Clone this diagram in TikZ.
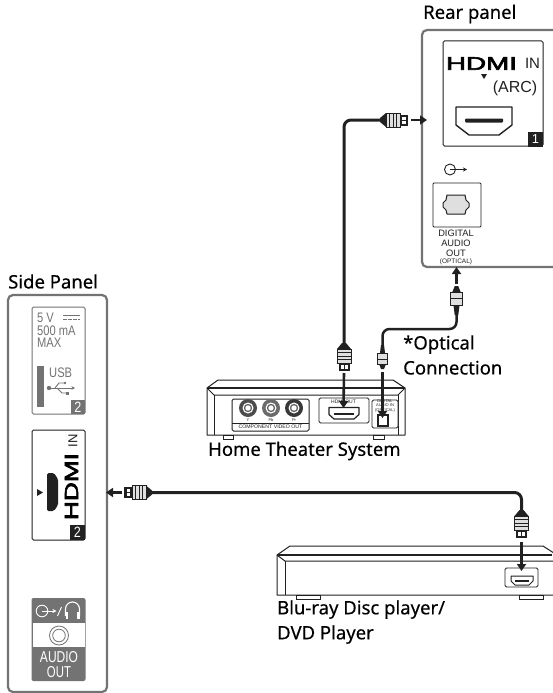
\documentclass[tikz,border=0pt]{standalone}
\usepackage{fontspec}
\usepackage{graphicx}
\setmainfont{Noto Sans}
\newfontfamily\capf[FakeBold=0.35]{Noto Sans}
\newfontfamily\lab{Liberation Sans}
\newfontfamily\logo[FakeBold=3]{Liberation Sans}
\definecolor{pgray}{gray}{0.45}
\definecolor{ink}{gray}{0.13}
\definecolor{jacka}{gray}{0.3}
\definecolor{jackb}{gray}{0.42}
\definecolor{jackc}{gray}{0.22}
\definecolor{jackr}{gray}{0.4}
\usetikzlibrary{arrows.meta}
\tikzset{
 panel/.style={draw=pgray,line width=2.2pt,rounded corners=5pt},
 portbox/.style={draw=ink,line width=1pt,rounded corners=1.5pt,fill=white},
 caption/.style={font=\capf\fontsize{18.5}{25}\selectfont,anchor=west,inner sep=0pt,text=black,align=left},
 tiny/.style={font=\lab\fontsize{9.3}{10}\selectfont,inner sep=0pt,text=ink},
 grayt/.style={font=\lab\fontsize{11.5}{12}\selectfont,inner sep=0pt,text=pgray,anchor=west},
 cable/.style={draw=ink,line width=3pt,rounded corners=7pt},
 thincable/.style={draw=ink,line width=2.5pt,rounded corners=7pt},
 pointer/.style={draw=ink,line width=2.6pt,-{Triangle[length=7pt,width=9pt]}},
 body/.style={draw=ink,line width=1pt,fill=white},
 badge/.style={fill=ink,text=white,font=\lab\fontsize{13}{14}\selectfont,inner sep=0pt,minimum width=15pt,minimum height=15pt},
 hdmiplug/.pic={
  \fill[ink] (-2,0)--(2,0)--(7,6)--(-7,6)--cycle;
  \draw[body,fill=gray!25] (-7,6) rectangle (7,20);
  \foreach \q in {9.5,13,16.5}{\draw[ink,line width=.9pt] (-7,\q)--(7,\q);}
  \fill[ink] (-5.5,20) rectangle (5.5,28);
  \fill[white] (-3.5,22) rectangle (-.5,25.5);
  \fill[white] (.5,22) rectangle (3.5,25.5);
 },
 optplug/.pic={
  \fill[ink] (-1.5,0)--(1.5,0)--(2.5,8)--(-2.5,8)--cycle;
  \draw[body,fill=gray!25] (-5,8) rectangle (5,19);
  \draw[ink,line width=.8pt] (-5,14)--(5,14);
  \fill[ink] (-3.5,19)--(3.5,19)--(1.5,24)--(-1.5,24)--cycle;
 },
}
\begin{document}
\begin{tikzpicture}[x=1pt,y=-1pt]
\useasboundingbox (0,0) rectangle (552,693);
\fill[white] (0,0) rectangle (552,693);
% captions
\node[caption] (rearcap) at (423,14) {Rear panel};
\node[caption] (sidecap) at (8,281.5) {Side Panel};
\node[caption] (optcap) at (403,355) {*Optical\\Connection};
\node[caption] (htscap) at (208,451) {Home Theater System};
\node[caption] (bdcap) at (277,622) {Blu-ray Disc player/\\DVD Player};
% rear panel
\draw[panel] (560,30)--(422,30)--(422,267)--(560,267);
\coordinate (rearin) at (427,120);
\coordinate (rearbot) at (456.5,267);
\node[portbox,minimum width=100pt,minimum height=105pt,inner sep=0pt] (reprt) at (493,93.5) {};
\node[inner sep=0pt] (rhdmi) at (481.5,63.5) {\resizebox{71pt}{12.5pt}{\logo HDMI}};
\node[font=\lab\fontsize{15}{16}\selectfont,inner sep=0pt,text=ink] (rin) at (532.5,63.5) {IN};
\fill[ink] (481,74)--(487,74)--(484,79)--cycle;
\node[font=\lab\fontsize{16}{17}\selectfont,inner sep=0pt,text=ink] (rarc) at (515,88) {(ARC)};
\draw[ink,line width=1.4pt,fill=white,line join=round] (456,107)--(512,107)--(512,125)--(499,135)--(469,135)--(456,125)--cycle;
\fill[ink,rounded corners=1pt] (465,118.5) rectangle (503,122.5);
\node[badge] (b1) at (535.5,139) {1};
% optical out
\draw[ink,line width=.9pt] (450,169.5) circle (5.5);
\draw[ink,line width=.9pt,-{Stealth[length=4pt,width=4pt]}] (450,169.5)--(467,169.5);
\node[draw=ink,line width=.8pt,rounded corners=1pt,minimum width=48pt,minimum height=44pt,inner sep=0pt] (optbox) at (457,205) {};
\draw[ink,line width=1pt,fill=gray!25,line join=round] (447,195)--(465,195)--(466,200)--(469,203)--(469,207)--(466,210)--(465,214)--(447,214)--(446,210)--(443,207)--(443,203)--(446,200)--cycle;
\node[tiny] (d1) at (456,233) {DIGITAL};
\node[tiny] (d2) at (456,243.5) {AUDIO};
\node[tiny] (d3) at (456,253.5) {OUT};
\node[tiny,font=\lab\fontsize{6.5}{7}\selectfont] (d4) at (456,261.5) {(OPTICAL)};
% HTS
\draw[ink,line width=1pt,fill=white,line join=round] (207,388)--(218,380)--(393,380)--(405,388)--(405,435)--(207,435)--cycle;
\draw[ink,line width=1.8pt] (207,388)--(405,388);
\draw[ink,line width=1pt] (207,388)--(214,395)--(398,395)--(405,388);
\draw[ink,line width=1pt] (214,395)--(214,435) (398,395)--(398,435);
\draw[ink,line width=1pt] (223,435) rectangle (233,439);
\draw[ink,line width=1pt] (373,435) rectangle (384,439);
\node[portbox,minimum width=77pt,minimum height=32pt,inner sep=0pt] (comp) at (270.5,415) {};
\draw[ink,line width=.8pt] (232,423)--(309,423);
\foreach \cx/\fl in {248/jacka,271/jackb,294/jackc}{
 \fill[\fl] (\cx,408) circle (9);
 \fill[white] (\cx,408) circle (5.5);
 \draw[jackr,line width=1.3pt] (\cx,408) circle (3.5);
}
\node[tiny,font=\lab\fontsize{4}{4}\selectfont] (cy) at (248,420) {Y};
\node[tiny,font=\lab\fontsize{4}{4}\selectfont] (cb) at (271,420) {Pb};
\node[tiny,font=\lab\fontsize{4}{4}\selectfont] (cr) at (294,420) {Pr};
\node[tiny,font=\lab\fontsize{5.2}{5}\selectfont] (cv) at (270.5,427) {COMPONENT VIDEO OUT};
\node[portbox,line width=.8pt,minimum width=50pt,minimum height=25pt,inner sep=0pt] (houtb) at (344,410.5) {};
\node[tiny,font=\lab\fontsize{5}{5}\selectfont] (hout) at (343.5,402) {HDMI OUT};
\draw[ink,line width=1.2pt,fill=white,line join=round] (329,407.5)--(359,407.5)--(359,414.5)--(354,419)--(334,419)--(329,414.5)--cycle;
\fill[ink] (334,412.5) rectangle (354,415);
\node[portbox,line width=.8pt,minimum width=26pt,minimum height=28pt,inner sep=0pt] (doutb) at (385,414) {};
\node[tiny,font=\lab\fontsize{4}{4.4}\selectfont,align=center] (dout) at (385,406) {DIGITAL\\AUDIO IN\\(OPTICAL)};
\draw[ink,line width=1.2pt,fill=white] (378,415) rectangle (388,426);
% BD player
\draw[ink,line width=1pt,fill=white,line join=round] (277,555)--(290,546)--(543,546)--(560,557)--(560,595)--(277,595)--cycle;
\draw[ink,line width=1.8pt] (277,555)--(552,555);
\draw[ink,line width=1pt] (277,555)--(285,561)--(560,561);
\draw[ink,line width=1pt] (285,561)--(285,595);
\draw[ink,line width=1pt] (296,595) rectangle (320,599);
\draw[ink,line width=1pt] (519,595) rectangle (543,599);
\node[portbox,line width=.8pt,minimum width=33pt,minimum height=19pt,inner sep=0pt] (bdport) at (521.5,577.5) {};
\draw[ink,line width=1pt,fill=white,line join=round] (511,576)--(533,576)--(533,581)--(529,585)--(515,585)--(511,581)--cycle;
\fill[ink] (515,579.5) rectangle (529,582);
% side panel
\node[panel,minimum width=99pt,minimum height=397pt,inner sep=0pt] (side) at (57.5,493.5) {};
\coordinate (sidein) at (106,492.5);
% USB
\node[draw=pgray,line width=1pt,rounded corners=1.5pt,minimum width=53pt,minimum height=107pt,inner sep=0pt] (usbbox) at (58.5,360.5) {};
\node[grayt] (u1) at (37,318) {\scalebox{.97}[1.2]{5 V}};
\node[grayt] (u2) at (37,330.5) {\scalebox{.97}[1.2]{500 mA}};
\node[grayt] (u3) at (37,343) {\scalebox{.97}[1.2]{MAX}};
\draw[pgray,line width=1pt] (63,315)--(80,315);
\draw[pgray,line width=1pt,dash pattern=on 3.5pt off 1.5pt] (63,319)--(80,319);
\fill[pgray] (37,366) rectangle (44,407);
\node[grayt] (u4) at (49,372.5) {\scalebox{.97}[1.2]{USB}};
\fill[pgray] (49,388) circle (2.2);
\draw[pgray,line width=.9pt,-{Stealth[length=3.5pt,width=3.5pt]}] (49,388)--(75,388);
\draw[pgray,line width=.9pt] (55,388)--(59,383)--(65,383);
\fill[pgray] (65,383) circle (1.3);
\draw[pgray,line width=.9pt] (57,388)--(62,393)--(67,393);
\fill[pgray] (66,391.5) rectangle (69,394.5);
\node[badge,fill=pgray,minimum width=14pt,minimum height=14pt] (b2a) at (78,407) {\scalebox{.97}[1.15]{2}};
% side HDMI
\node[portbox,minimum width=53pt,minimum height=110pt,inner sep=0pt] (shb) at (58.5,485) {};
\node[inner sep=0pt,rotate=90] (slogo) at (71.5,486.5) {\resizebox{67pt}{13pt}{\logo HDMI}};
\node[font=\lab\fontsize{13}{14}\selectfont,inner sep=0pt,text=ink,rotate=90] (sin) at (73,441) {IN};
\fill[ink] (37,489)--(43,492.5)--(37,496)--cycle;
\fill[ink,rounded corners=1.5pt] (47,473)--(54,473)--(58,479)--(58,505)--(54,511)--(47,511)--cycle;
\node[badge] (b2b) at (77.5,532.5) {\scalebox{.97}[1.15]{2}};
% audio out
\node[fill=pgray,rounded corners=2pt,minimum width=54pt,minimum height=83pt,inner sep=0pt] (aout) at (58.5,639.5) {};
\fill[white] (32.5,623) rectangle (84.5,647);
\draw[white,line width=.9pt] (42,611) circle (5.8);
\draw[white,line width=.9pt,-{Stealth[length=4pt,width=4pt]}] (42,611)--(56.5,611);
\draw[white,line width=.9pt] (57.5,616)--(61.5,607);
\draw[white,line width=1.1pt] (65.5,616)--(65.5,609) arc[start angle=180,end angle=360,radius=7] --(79.5,616);
\fill[white] (65.5,612) rectangle (68,619);
\fill[white] (77,612) rectangle (79.5,619);
\draw[pgray,line width=.8pt] (59,635.5) circle (9.5);
\draw[pgray,line width=.8pt] (59,635.5) circle (6.3);
\node[inner sep=0pt,text=white,font=\lab] (a1) at (59,657.5) {\resizebox{38pt}{11pt}{AUDIO}};
\node[inner sep=0pt,text=white,font=\lab] (a2) at (59,672) {\resizebox{24pt}{11pt}{OUT}};
% connectors
\coordinate (hplugA) at (380,120);
\coordinate (hplugB) at (344,343);
\draw[cable] (hplugB)--(344,120)--(hplugA);
\pic[rotate=90] at (hplugA) {hdmiplug};
\pic at (hplugB) {hdmiplug};
\coordinate (hA) at (411,120);
\coordinate (hB) at (344,373);
\coordinate (hC) at (343.5,408);
\draw[pointer] (hA)--(rearin);
\draw[pointer] (hB)--(hC);
\coordinate (oplugA) at (456.5,315);
\coordinate (oplugB) at (382.5,345);
\draw[thincable] (oplugA)--(456.5,329)--(382.5,329)--(oplugB);
\pic[rotate=180,scale=1.2] at (oplugA) {optplug};
\pic at (oplugB) {optplug};
\coordinate (oA) at (456.5,284);
\draw[pointer] (oA)--(rearbot);
\coordinate (oB) at (382.5,372);
\coordinate (oC) at (382.5,418);
\draw[pointer] (oB)--(oC);
\coordinate (bplugA) at (152,492.5);
\coordinate (bplugB) at (521.5,510);
\draw[cable] (bplugA)--(521.5,492.5)--(bplugB);
\pic[rotate=-90] at (bplugA) {hdmiplug};
\pic at (bplugB) {hdmiplug};
\coordinate (bA) at (122,492.5);
\draw[pointer] (bA)--(sidein);
\coordinate (bB) at (521.5,542);
\coordinate (bC) at (521.5,571);
\draw[pointer] (bB)--(bC);
\end{tikzpicture}
\end{document}
